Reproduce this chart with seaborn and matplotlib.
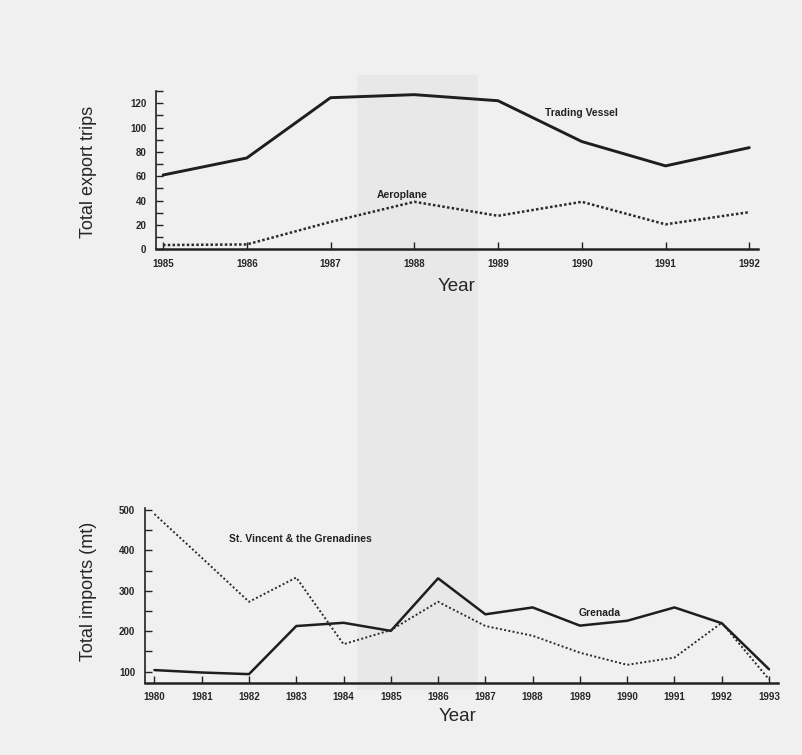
import matplotlib
matplotlib.use("Agg")
import matplotlib.pyplot as plt
import matplotlib.patches as mpatches
from matplotlib.ticker import MultipleLocator
import seaborn as sns
import pandas as pd

# ---- data ----
years_top = [1985, 1986, 1987, 1988, 1989, 1990, 1991, 1992]
trading_vessel = [61, 75, 124.5, 127, 122, 88.5, 68.5, 83.5]
aeroplane = [3.5, 4, 22.5, 39, 27.5, 39, 20.5, 30.5]

years_bot = [1980, 1981, 1982, 1983, 1984, 1985, 1986, 1987, 1988, 1989,
             1990, 1991, 1992, 1993]
grenada = [104, 98, 94, 213, 221, 201, 331, 242, 259, 214, 226, 259, 220, 106]
st_vincent = [490, 382, 273, 333, 168, 203, 273, 213, 189, 147, 117, 135, 221, 81]

top_ticks = years_top
bot_ticks = years_bot

sns.set_style("ticks")
plt.rcParams['font.family'] = ['Liberation Sans', 'DejaVu Sans']

BG = '#f0f0f0'
fig = plt.figure(figsize=(8.03, 7.55), dpi=100, facecolor=BG)

# faint scanner band behind everything
band = mpatches.Rectangle((357 / 803, 1 - 690 / 755), 121 / 803, 615 / 755,
                          transform=fig.transFigure, facecolor='#e8e8e8',
                          edgecolor='none', zorder=-10)
fig.patches.append(band)

ax1 = fig.add_axes([156 / 803, 1 - 249.3 / 755, 602 / 803, 158.3 / 755])
ax2 = fig.add_axes([145 / 803, 1 - 682.7 / 755, 633 / 803, 174.7 / 755])

df_top = pd.DataFrame({'Year': years_top, 'Trading Vessel': trading_vessel,
                       'Aeroplane': aeroplane})
df_bot = pd.DataFrame({'Year': years_bot, 'Grenada': grenada,
                       'St. Vincent & the Grenadines': st_vincent})

sns.lineplot(data=df_top, x='Year', y='Trading Vessel', ax=ax1, color='#1e1e1e',
             lw=2.1, legend=False)
sns.lineplot(data=df_top, x='Year', y='Aeroplane', ax=ax1, color='#2a2a2a',
             lw=1.8, linestyle=(0, (1, 0.9)), legend=False)

sns.lineplot(data=df_bot, x='Year', y='Grenada', ax=ax2, color='#1e1e1e',
             lw=1.8, legend=False)
sns.lineplot(data=df_bot, x='Year', y='St. Vincent & the Grenadines', ax=ax2,
             color='#2a2a2a', lw=1.4, linestyle=(0, (1, 1.2)), legend=False)

tickfont = dict(family='Liberation Sans', size=7, weight='bold')

for ax in (ax1, ax2):
    ax.set_facecolor('none')
    for s in ('top', 'right'):
        ax.spines[s].set_visible(False)
    ax.spines['left'].set_linewidth(1.2)
    ax.spines['bottom'].set_linewidth(1.8)
    ax.spines['left'].set_color('#222222')
    ax.spines['bottom'].set_color('#222222')
    ax.tick_params(axis='y', which='both', direction='in', length=5, width=1,
                   color='#222222', pad=7)
    ax.tick_params(axis='x', which='both', direction='in', length=5, width=1,
                   color='#222222', pad=7)

ax1.set_xlim(1984.916, 1992.104)
ax1.set_ylim(0, 130)
ax1.set_xticks(top_ticks)
ax1.set_yticks([0, 20, 40, 60, 80, 100, 120])
ax1.yaxis.set_minor_locator(MultipleLocator(10))
ax1.set_xticklabels([str(t) for t in top_ticks], **tickfont)
ax1.set_yticklabels(['0', '20', '40', '60', '80', '100', '120'], **tickfont)
ax1.set_xlabel('Year', fontsize=13.5)
ax1.set_ylabel('Total export trips', fontsize=13)
ax1.xaxis.set_label_coords(0.5, -0.181)
ax1.yaxis.set_label_coords(-0.098, 0.49)
ax1.text(1990.0, 112, 'Trading Vessel', fontsize=7.5, weight='bold',
         ha='center', va='center', color='#222222')
ax1.text(1987.85, 44.6, 'Aeroplane', fontsize=7.5, weight='bold',
         ha='center', va='center', color='#222222')

ax2.set_xlim(1979.80, 1993.19)
ax2.set_ylim(72.8, 505)
ax2.set_xticks(bot_ticks)
ax2.set_yticks([100, 200, 300, 400, 500])
ax2.yaxis.set_minor_locator(MultipleLocator(50))
ax2.set_xticklabels([str(t) for t in bot_ticks], **tickfont)
ax2.set_yticklabels(['100', '200', '300', '400', '500'], **tickfont)
ax2.set_xlabel('Year', fontsize=13.5)
ax2.set_ylabel('Total imports (mt)', fontsize=13)
ax2.xaxis.set_label_coords(0.494, -0.145)
ax2.yaxis.set_label_coords(-0.076, 0.525)
ax2.text(1983.08, 428.5, 'St. Vincent & the Grenadines', fontsize=7.5,
         weight='bold', ha='center', va='center', color='#222222')
ax2.text(1989.42, 246, 'Grenada', fontsize=7.5, weight='bold',
         ha='center', va='center', color='#222222')

fig.savefig('out.png', dpi=100, facecolor=BG)
